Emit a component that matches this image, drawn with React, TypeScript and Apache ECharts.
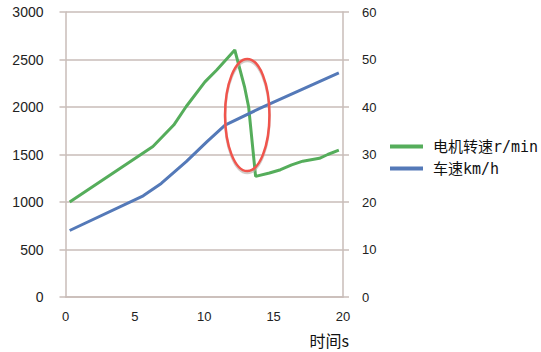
import React, { useEffect, useRef } from "react";
import * as echarts from "echarts";

const motorTime = [0.3, 6.3, 7.8, 8.7, 10.05, 10.9, 12.2, 12.9, 13.2, 13.7, 14.7, 15.5, 16.3, 17.1, 18.3, 18.9, 19.7];
const motorRpm = [1000, 1585, 1810, 2005, 2265, 2390, 2600, 2215, 2000, 1270, 1305, 1340, 1390, 1430, 1460, 1500, 1545];
const carTime = [0.3, 5.6, 6.9, 8.7, 10.2, 11.5, 14.0, 19.7];
const carSpeed = [14, 21.3, 23.9, 28.5, 32.7, 36.2, 39.7, 47.2];
const seriesNames = ["电机转速r/min", "车速km/h"];
const xTitle = "时间s";
// highlight ellipse in data units: center time, center rpm, half-width (s), half-height (rpm)
const highlight = { t: 13.1, rpm: 1916, dt: 1.6, drpm: 590 };

const gridColor = "#c9bcb8";
const labelColor = "#222";

export default function App() {
  const ref = useRef<HTMLDivElement>(null);
  useEffect(() => {
    if (!ref.current) return;
    const chart = echarts.init(ref.current, undefined, { renderer: "svg" });
    const titleGraphic = {
      type: "text",
      right: 541 - 349,
      top: 332,
      style: { text: xTitle, fontSize: 16, fill: "#111", fontFamily: "Noto Sans CJK SC" },
    };
    const option: any = {
      animation: false,
      backgroundColor: "#fff",
      grid: { left: 65.5, right: 198, top: 12, bottom: 55 },
      legend: {
        orient: "vertical",
        left: 385,
        top: 134,
        itemWidth: 33,
        itemHeight: 4,
        itemGap: 7,
        icon: "rect",
        textStyle: {
          fontSize: 15,
          color: "#111",
          fontFamily: "DejaVu Sans Mono, Noto Sans CJK SC",
          padding: [0, 0, 0, 5],
        },
        data: seriesNames,
      },
      xAxis: {
        type: "value",
        min: 0,
        max: 20,
        interval: 5,
        axisLine: { show: true, lineStyle: { color: gridColor, width: 1.5 } },
        axisTick: { show: false },
        splitLine: { show: false },
        axisLabel: { fontSize: 13, color: labelColor, margin: 13, fontFamily: "Liberation Sans, Arial" },
      },
      yAxis: [
        {
          type: "value",
          min: 0,
          max: 3000,
          interval: 500,
          axisLine: { show: true, lineStyle: { color: gridColor, width: 1.5 } },
          axisTick: { show: true, length: 6, lineStyle: { color: gridColor, width: 1.5 } },
          splitLine: { show: true, lineStyle: { color: gridColor, width: 1.5 } },
          axisLabel: {
            fontSize: 14,
            color: labelColor,
            margin: 22,
            fontFamily: "Liberation Sans, Arial",
            formatter: (v: number) => String(v),
          },
        },
        {
          type: "value",
          min: 0,
          max: 60,
          interval: 10,
          position: "right",
          axisLine: { show: true, lineStyle: { color: gridColor, width: 1.5 } },
          axisTick: { show: true, length: 6, lineStyle: { color: gridColor, width: 1.5 } },
          splitLine: { show: false },
          axisLabel: { fontSize: 13, color: labelColor, margin: 19, fontFamily: "Liberation Sans, Arial" },
        },
      ],
      series: [
        {
          name: seriesNames[0],
          type: "line",
          yAxisIndex: 0,
          showSymbol: false,
          symbol: "none",
          color: "#55ad5b",
          lineStyle: { width: 3, color: "#55ad5b" },
          data: motorTime.map((t, i) => [t, motorRpm[i]]),
        },
        {
          name: seriesNames[1],
          type: "line",
          yAxisIndex: 1,
          showSymbol: false,
          symbol: "none",
          color: "#5479b8",
          lineStyle: { width: 3, color: "#5479b8" },
          data: carTime.map((t, i) => [t, carSpeed[i]]),
        },
      ],
      graphic: [titleGraphic],
    };
    chart.setOption(option);

    const c = chart.convertToPixel({ xAxisIndex: 0, yAxisIndex: 0 } as any, [highlight.t, highlight.rpm]) as number[];
    const e = chart.convertToPixel({ xAxisIndex: 0, yAxisIndex: 0 } as any, [highlight.t + highlight.dt, highlight.rpm - highlight.drpm]) as number[];
    const rx = Math.abs(e[0] - c[0]);
    const ry = Math.abs(e[1] - c[1]);
    chart.setOption({
      graphic: [
        titleGraphic,
        {
          type: "ellipse",
          shape: { cx: c[0], cy: c[1] + 2, rx, ry },
          style: { fill: "none", stroke: "rgba(180,170,165,0.6)", lineWidth: 2.5 },
          z: 99,
        },
        {
          type: "ellipse",
          shape: { cx: c[0], cy: c[1], rx, ry },
          style: { fill: "none", stroke: "#f0544c", lineWidth: 2.5 },
          z: 100,
        },
      ],
    } as any);

    return () => chart.dispose();
  }, []);
  return <div ref={ref} style={{ width: 541, height: 352, position: "absolute", left: 0, top: 0 }} />;
}
